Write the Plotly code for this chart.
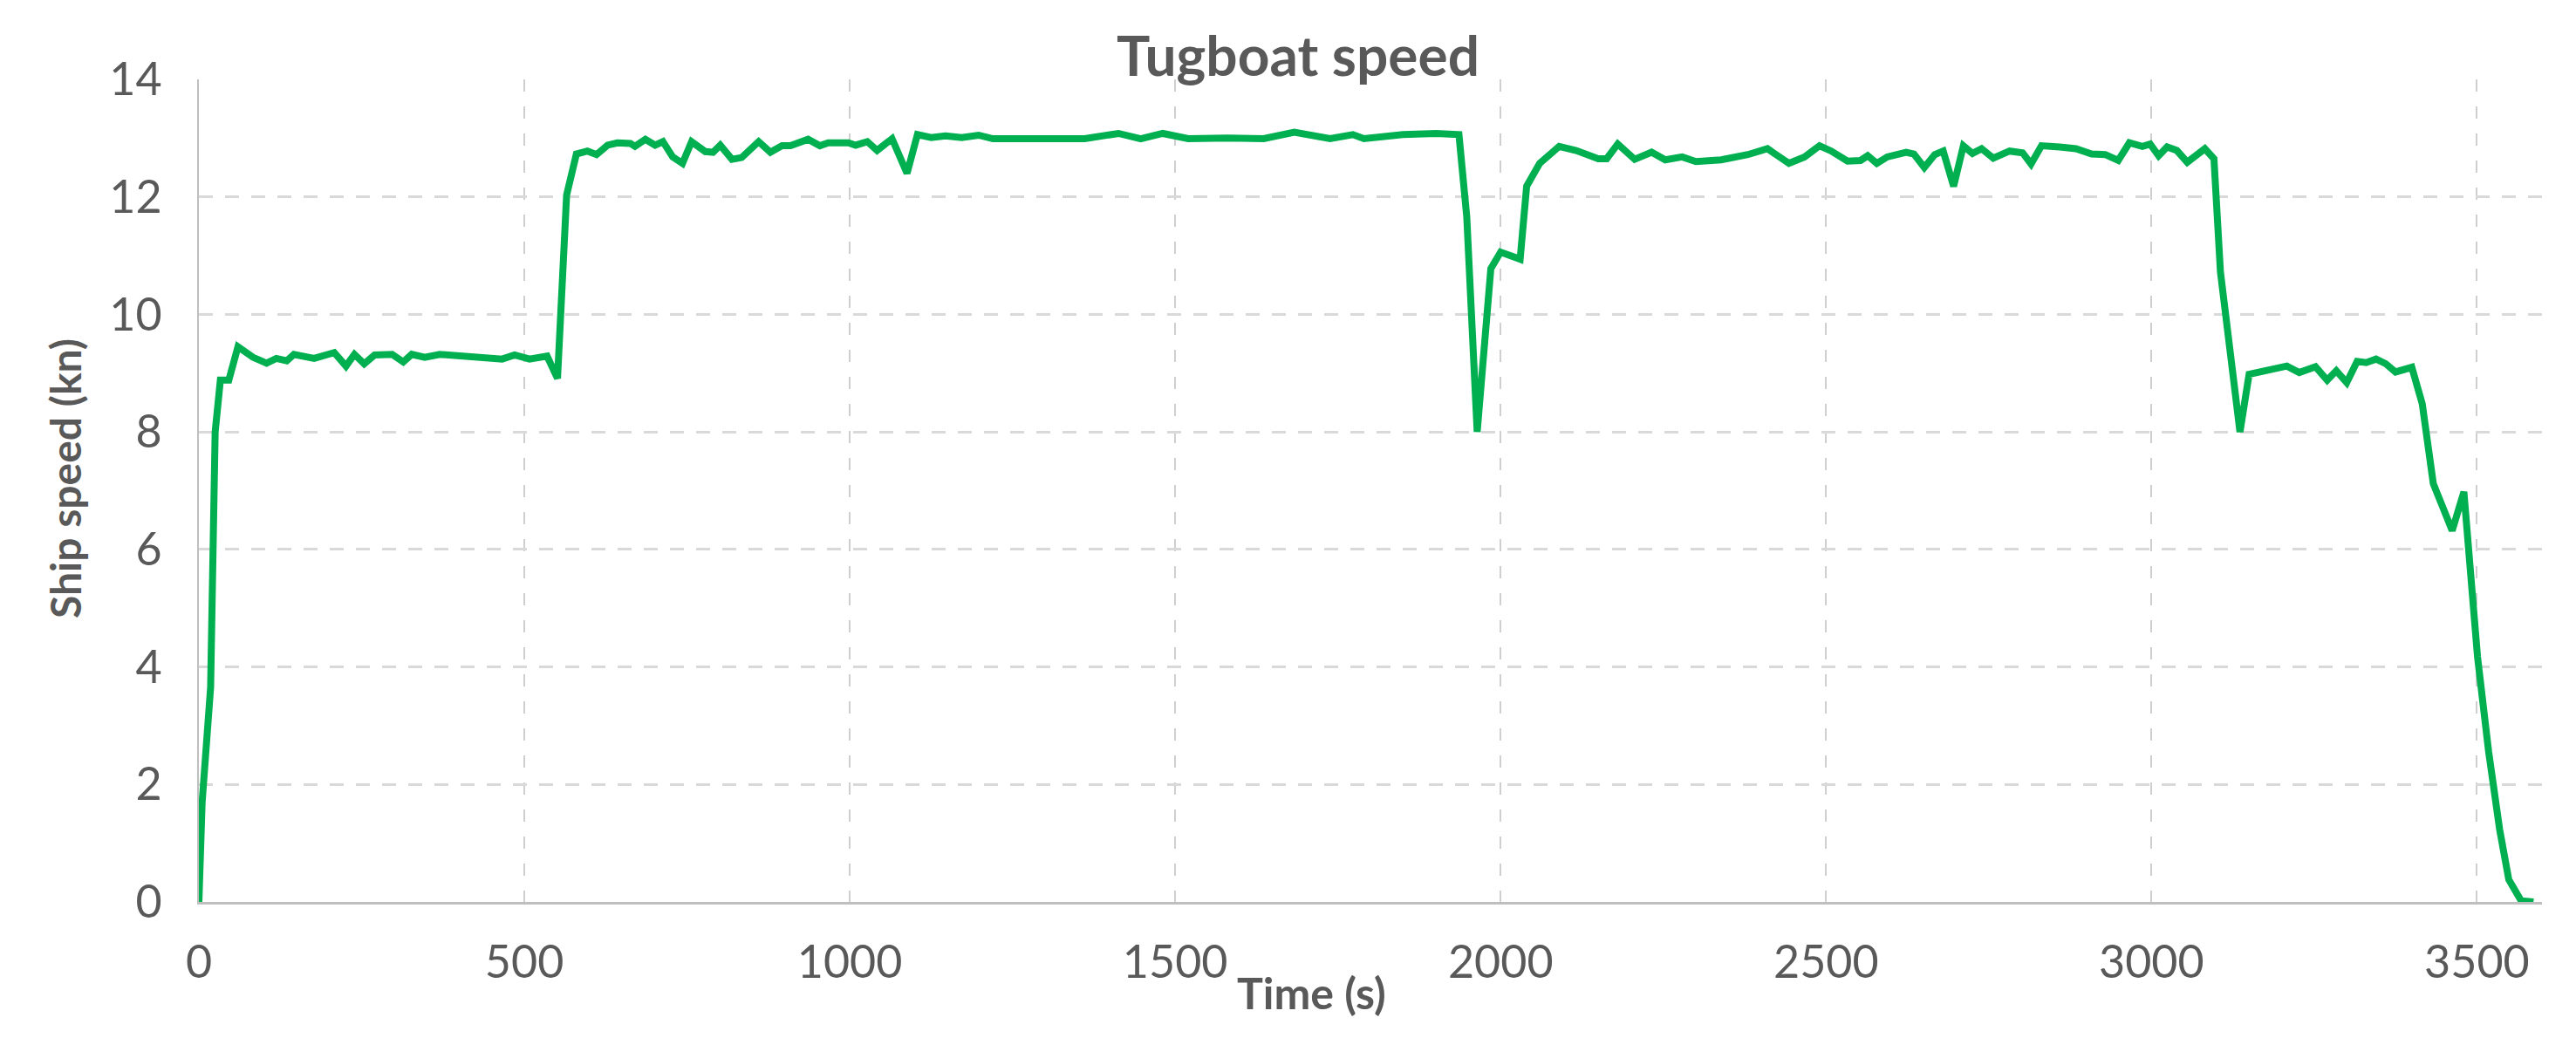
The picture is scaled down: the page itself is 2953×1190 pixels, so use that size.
import plotly.graph_objects as go

time_s = [0, 5, 18, 25, 33, 46, 60, 83, 104, 119, 135, 146, 177, 208, 226, 239, 254, 270, 297, 314,
          327, 347, 370, 404, 443, 466, 485, 508, 535, 551, 565, 580, 597, 611, 628, 643, 663, 670, 686, 701,
          713, 728, 743, 757, 778, 790, 801, 819, 834, 860, 878, 896, 909, 936, 954, 967, 998, 1009, 1027, 1042,
          1065, 1088, 1104, 1125, 1147, 1172, 1198, 1220, 1290, 1361, 1413, 1447, 1481, 1520, 1580, 1636, 1683, 1738, 1773, 1790,
          1850, 1901, 1936, 1948, 1964, 1985, 2000, 2030, 2040, 2060, 2090, 2116, 2150, 2163, 2180, 2206, 2232, 2253, 2279, 2300,
          2339, 2380, 2410, 2443, 2467, 2490, 2508, 2533, 2553, 2564, 2578, 2594, 2623, 2635, 2651, 2667, 2680, 2696, 2711, 2725,
          2739, 2757, 2782, 2802, 2815, 2831, 2859, 2884, 2908, 2929, 2949, 2966, 2986, 2998, 3011, 3024, 3039, 3055, 3082, 3096,
          3106, 3136, 3150, 3170, 3189, 3208, 3227, 3252, 3270, 3284, 3300, 3316, 3330, 3345, 3360, 3375, 3400, 3416, 3433, 3447,
          3462, 3480, 3501, 3518, 3535, 3549, 3568, 3587]

speed_kn = [0, 1.7, 3.65, 8.0, 8.88, 8.88, 9.45, 9.27, 9.17, 9.25, 9.21, 9.32, 9.25, 9.35, 9.12, 9.32, 9.16, 9.31, 9.32, 9.19,
            9.32, 9.27, 9.32, 9.30, 9.25, 9.24, 9.31, 9.24, 9.29, 8.91, 12.03, 12.73, 12.78, 12.72, 12.88, 12.92, 12.91, 12.86, 12.98, 12.88,
            12.94, 12.68, 12.57, 12.94, 12.77, 12.76, 12.88, 12.64, 12.67, 12.94, 12.76, 12.87, 12.87, 12.98, 12.87, 12.92, 12.92, 12.88, 12.94, 12.79,
            12.99, 12.40, 13.06, 13.01, 13.04, 13.01, 13.05, 12.99, 12.99, 12.99, 13.08, 12.99, 13.08, 12.99, 13.00, 12.99, 13.10, 12.99, 13.06, 12.99,
            13.06, 13.08, 13.06, 11.66, 8.0, 10.78, 11.06, 10.94, 12.18, 12.57, 12.86, 12.79, 12.65, 12.65, 12.90, 12.64, 12.76, 12.63, 12.68, 12.60,
            12.63, 12.72, 12.82, 12.57, 12.68, 12.87, 12.78, 12.61, 12.62, 12.70, 12.57, 12.68, 12.76, 12.73, 12.50, 12.72, 12.78, 12.18, 12.87, 12.74,
            12.82, 12.66, 12.78, 12.75, 12.56, 12.87, 12.85, 12.82, 12.73, 12.72, 12.62, 12.92, 12.86, 12.90, 12.70, 12.85, 12.79, 12.59, 12.82, 12.65,
            10.72, 8.0, 8.98, 9.03, 9.09, 9.12, 9.01, 9.11, 8.88, 9.04, 8.84, 9.20, 9.18, 9.24, 9.16, 9.02, 9.10, 8.48, 7.12, 6.70,
            6.32, 6.98, 4.17, 2.56, 1.23, 0.38, 0.02, 0.0]

x_ticks = [0, 500, 1000, 1500, 2000, 2500, 3000, 3500]
y_ticks = [0, 2, 4, 6, 8, 10, 12, 14]

W, H = 2953, 1190
L, R, T, B = 220, 47, 83, 164
FONT = "Lato"
GREY = "#595959"

fig = go.Figure()
fig.add_trace(go.Scatter(x=time_s, y=speed_kn, mode="lines",
                         line=dict(color="#00B050", width=8), showlegend=False))

fig.update_layout(
    width=W, height=H,
    margin=dict(l=L, r=R, t=T, b=B),
    paper_bgcolor="white", plot_bgcolor="white",
    font=dict(family=FONT, color=GREY, size=52),
    showlegend=False,
)

fig.update_xaxes(
    range=[0, 3600], tickvals=x_ticks, ticktext=[str(v) for v in x_ticks],
    showgrid=True, gridcolor="#CFCFCF", gridwidth=2, griddash="14px,17px",
    showline=True, linecolor="#BFBFBF", linewidth=3, zeroline=False,
    ticks="", ticklabelstandoff=22,
    tickfont=dict(family=FONT, size=52, color=GREY),
)
fig.update_yaxes(
    range=[0, 14], tickvals=y_ticks, ticktext=[str(v) for v in y_ticks],
    showgrid=True, gridcolor="#D9D9D9", gridwidth=3, griddash="16px,14px",
    showline=True, linecolor="#BFBFBF", linewidth=2, zeroline=False,
    ticks="", ticklabelstandoff=30,
    tickfont=dict(family=FONT, size=52, color=GREY),
)

plot_w = W - L - R
plot_h = H - T - B
# title
fig.add_annotation(text="<b>Tugboat speed</b>", xref="paper", yref="paper",
                   x=(1480 - L) / plot_w, y=1 + (T - 55) / plot_h,
                   xanchor="center", yanchor="middle", showarrow=False,
                   font=dict(family=FONT, size=64, color=GREY))
# x axis title
fig.add_annotation(text="<b>Time (s)</b>", xref="paper", yref="paper",
                   x=(1495 - L) / plot_w, y=-(1130 - (H - B)) / plot_h,
                   xanchor="center", yanchor="middle", showarrow=False,
                   font=dict(family=FONT, size=50, color=GREY))
# y axis title
fig.add_annotation(text="<b>Ship speed (kn)</b>", xref="paper", yref="paper",
                   x=-(L - 66) / plot_w, y=1 - (541 - T) / plot_h,
                   xanchor="center", yanchor="middle", showarrow=False, textangle=-90,
                   font=dict(family=FONT, size=48, color=GREY))

fig.write_html("out.html")
